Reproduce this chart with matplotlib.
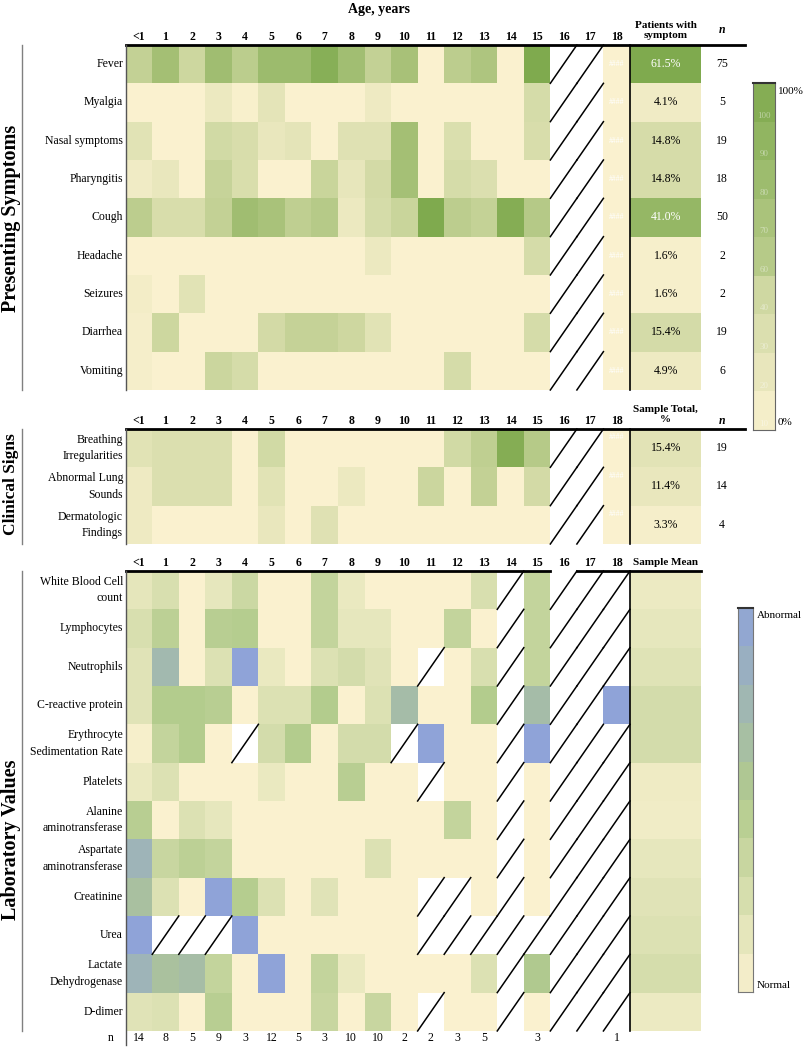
import numpy as np
import matplotlib
matplotlib.use("Agg")
from matplotlib import pyplot as plt
from matplotlib.colors import LinearSegmentedColormap, Normalize

nan = np.nan

## Data
ages = ["<1", "1", "2", "3", "4", "5", "6", "7", "8", "9", "10",
        "11", "12", "13", "14", "15", "16", "17", "18"]

symptoms = ["Fever", "Myalgia", "Nasal symptoms", "Pharyngitis", "Cough",
            "Headache", "Seizures", "Diarrhea", "Vomiting"]
symptom_pct = [
  [45, 70, 37, 73, 51, 76, 76, 93, 72, 45, 67, 0, 50, 62, 0, 100, nan, nan, 0],
  [0, 0, 0, 12, 2, 18, 0, 0, 0, 10, 0, 0, 0, 0, 0, 30, nan, nan, 0],
  [20, 0, 0, 33, 28, 14, 18, 0, 22, 22, 70, 0, 26, 0, 0, 28, nan, nan, 0],
  [8, 14, 0, 42, 27, 0, 0, 40, 16, 32, 69, 0, 30, 25, 0, 0, nan, nan, 0],
  [50, 28, 28, 45, 73, 66, 48, 55, 12, 30, 40, 100, 50, 44, 95, 56, nan, nan, 0],
  [0, 0, 0, 0, 0, 0, 0, 0, 0, 12, 0, 0, 0, 0, 0, 30, nan, nan, 0],
  [6, 0, 20, 0, 0, 0, 0, 0, 0, 0, 0, 0, 0, 0, 0, 0, nan, nan, 0],
  [4, 37, 0, 0, 0, 32, 43, 43, 36, 20, 0, 0, 0, 0, 0, 30, nan, nan, 0],
  [4, 0, 0, 38, 30, 0, 0, 0, 0, 0, 0, 0, 30, 0, 0, 0, nan, nan, 0],
]
symptom_total = [61.5, 4.1, 14.8, 14.8, 41.0, 1.6, 1.6, 15.4, 4.9]
symptom_n = [75, 5, 19, 18, 50, 2, 2, 19, 6]

signs = ["Breathing\nIrregularities", "Abnormal Lung\nSounds",
         "Dermatologic\nFindings"]
sign_pct = [
  [20, 25, 25, 25, 0, 33, 0, 0, 0, 0, 0, 0, 33, 48, 95, 55, nan, nan, 0],
  [10, 25, 25, 25, 0, 20, 0, 0, 12, 0, 0, 38, 0, 45, 0, 32, nan, nan, 0],
  [10, 0, 0, 0, 0, 14, 0, 22, 0, 0, 0, 0, 0, 0, 0, 0, nan, nan, 0],
]
sign_total = [15.4, 11.4, 3.3]
sign_n = [19, 14, 4]

labs = ["White Blood Cell\ncount", "Lymphocytes", "Neutrophils",
        "C-reactive protein", "Erythrocyte\nSedimentation Rate", "Platelets",
        "Alanine\naminotransferase", "Aspartate\naminotransferase",
        "Creatinine", "Urea", "Lactate\nDehydrogenase", "D-dimer"]
# 0 = normal, 100 = abnormal
lab_score = [
  [15, 24, 0, 14, 33, 0, 0, 38, 11, 0, 0, 0, 0, 24, nan, 38, nan, nan, nan],
  [24, 43, 0, 46, 48, 0, 0, 38, 14, 14, 0, 0, 38, 0, nan, 38, nan, nan, nan],
  [18, 73, 0, 21, 100, 11, 0, 21, 27, 18, 0, nan, 0, 24, nan, 38, nan, nan, nan],
  [18, 49, 49, 46, 0, 21, 21, 49, 0, 21, 68, 0, 0, 49, nan, 68, nan, nan, 100],
  [3, 38, 49, 0, nan, 27, 49, 0, 27, 27, nan, 100, 0, 0, nan, 100, nan, nan, nan],
  [11, 21, 0, 0, 0, 11, 0, 0, 46, 0, 0, nan, 0, 0, nan, 0, nan, nan, nan],
  [46, 0, 21, 14, 0, 0, 0, 0, 0, 0, 0, 0, 38, 0, nan, 0, nan, nan, nan],
  [79, 35, 43, 38, 0, 0, 0, 0, 0, 21, 0, 0, 0, 0, nan, 0, nan, nan, nan],
  [63, 21, 0, 100, 48, 21, 0, 18, 0, 0, 0, nan, nan, 0, nan, 0, nan, nan, nan],
  [100, nan, nan, nan, 100, 0, 0, 0, 0, 0, 0, nan, nan, nan, nan, nan, nan, nan, nan],
  [79, 62, 67, 38, 0, 100, 0, 38, 11, 0, 0, 0, 0, 21, nan, 52, nan, nan, nan],
  [18, 21, 0, 46, 0, 0, 0, 35, 0, 35, 0, nan, 0, 0, nan, 0, nan, nan, nan],
]
lab_mean = [10, 14, 19, 27, 27, 8, 7, 14, 18, 21, 26, 10]
lab_n = [14, 8, 5, 9, 3, 12, 5, 3, 10, 10, 2, 2, 3, 5, None, 3, None, None, 1]

legend_pct = [100, 90, 80, 70, 60, 40, 30, 20, 10]
lab_legend = [100, 90, 80, 70, 60, 50, 40, 30, 20, 10]

## Layout (pixels)
W, H = 807, 1050
GX0 = 125.7       # left edge of the grid
CW = 26.54        # width of one age column
SUM_W = 71.5      # width of the summary column
ROW_H = 38.33
SW = SUM_W / CW

plt.rcParams['font.family'] = ['Liberation Serif', 'DejaVu Serif']

sym_cmap = LinearSegmentedColormap.from_list('sym', ['#FAF1CF', '#7FAA4E'])
lab_cmap = LinearSegmentedColormap.from_list(
  'lab', [(0, '#FAF1CF'), (0.5, '#B2CB8C'), (1, '#8FA3D8')])
pct_norm = Normalize(0, 100)

fig = plt.figure(figsize=(W / 100, H / 100), dpi=100)

def px(x):
  return (x - GX0) / CW

def section_axes(top, nrows):
  ax = fig.add_axes([GX0 / W, 1 - (top + nrows * ROW_H) / H,
                     (19 * CW + SUM_W) / W, nrows * ROW_H / H])
  ax.set_xlim(0, 19 + SW)
  ax.set_ylim(nrows, 0)
  ax.axis('off')
  return ax

def draw_grid(ax, vals, cmap, norm):
  data = np.ma.masked_invalid(np.array(vals, dtype=float))
  nr, nc = data.shape
  ax.pcolormesh(np.arange(nc + 1), np.arange(nr + 1), data, cmap=cmap,
                norm=norm, edgecolors='none', antialiased=False)
  for i, j in np.argwhere(np.ma.getmaskarray(data)):
    ax.plot([j, j + 1], [i + 1, i], color='black', lw=1.1, clip_on=False)

def draw_summary(ax, vals, cmap, norm):
  v = np.array(vals, dtype=float)[:, None]
  ax.pcolormesh([19, 19 + SW], np.arange(len(vals) + 1), v, cmap=cmap,
                norm=norm, edgecolors='none', antialiased=False)

def draw_rows(ax, names):
  for i, name in enumerate(names):
    ax.text(-0.1, i + 0.5, name, ha='right', va='center', fontsize=8.5,
            linespacing=1.5, clip_on=False)

def draw_header(ax, y, line_end, gap=None):
  for j, a in enumerate(ages):
    ax.text(j + 0.5, y, a, ha='center', va='center', fontsize=8.5,
            fontweight='bold', clip_on=False)
  if gap is None:
    ax.plot([0, line_end], [0, 0], color='black', lw=2, clip_on=False)
  else:
    ax.plot([0, gap], [0, 0], color='black', lw=2, clip_on=False)
    ax.plot([gap + 1, line_end], [0, 0], color='black', lw=2, clip_on=False)

def draw_frame(ax, nrows, extra=0):
  ax.plot([0, 0], [0, nrows + extra], color='#555555', lw=1, clip_on=False)
  ax.plot([19, 19], [0, nrows], color='black', lw=1.2, clip_on=False)

def section_label(ax, nrows, text, top, yc, size):
  ax.plot([px(21.7)] * 2, [0, nrows], color='#808080', lw=1, clip_on=False)
  ax.text(px(11), (yc - top) / ROW_H, text, rotation=90, ha='center',
          va='center', fontsize=size, fontweight='bold', clip_on=False)

def draw_totals(ax, totals, counts, top_two_line):
  for i, (t, n) in enumerate(zip(totals, counts)):
    col = 'white' if t > 40 else 'black'
    ax.text(19 + SW / 2, i + 0.5, "%.1f%%" % t, ha='center', va='center',
            fontsize=8.5, color=col)
    ax.text(px(722), i + 0.5, str(n), ha='center', va='center', fontsize=8.5,
            clip_on=False)
    yy = i + 0.22 if top_two_line else i + 0.5
    ax.text(18.5, yy, "####", ha='center', va='center', fontsize=5.5,
            color='white')

## Presenting symptoms
top1 = 45
ax1 = section_axes(top1, len(symptoms))
draw_grid(ax1, symptom_pct, sym_cmap, pct_norm)
draw_summary(ax1, symptom_total, sym_cmap, Normalize(0, 50, clip=True))
draw_rows(ax1, symptoms)
draw_header(ax1, -0.21, px(745))
draw_frame(ax1, len(symptoms))
draw_totals(ax1, symptom_total, symptom_n, False)
ax1.text(19 + SW / 2, -0.38, "Patients with\nsymptom", ha='center',
         va='center', fontsize=8, fontweight='bold', linespacing=1.25,
         clip_on=False)
ax1.text(px(722), -0.38, "n", ha='center', va='center', fontsize=8.5,
         fontweight='bold', style='italic', clip_on=False)
section_label(ax1, len(symptoms), "Presenting Symptoms", top1, 218, 14.5)

## Clinical signs
top2 = 429
ax2 = section_axes(top2, len(signs))
draw_grid(ax2, sign_pct, sym_cmap, pct_norm)
draw_summary(ax2, sign_total, sym_cmap, Normalize(0, 80, clip=True))
draw_rows(ax2, signs)
draw_header(ax2, -0.21, px(745))
draw_frame(ax2, len(signs))
draw_totals(ax2, sign_total, sign_n, True)
ax2.text(19 + SW / 2, -0.38, "Sample Total,\n%", ha='center', va='center',
         fontsize=8, fontweight='bold', linespacing=1.25, clip_on=False)
ax2.text(px(722), -0.21, "n", ha='center', va='center', fontsize=8.5,
         fontweight='bold', style='italic', clip_on=False)
section_label(ax2, len(signs), "Clinical Signs", top2, 484, 12.5)

## Laboratory values
top3 = 571
ax3 = section_axes(top3, len(labs))
draw_grid(ax3, lab_score, lab_cmap, pct_norm)
draw_summary(ax3, lab_mean, lab_cmap, pct_norm)
draw_rows(ax3, labs)
draw_header(ax3, -0.21, 19 + SW, gap=16)
draw_frame(ax3, len(labs), extra=0.37)
ax3.text(19 + SW / 2, -0.21, "Sample Mean", ha='center', va='center',
         fontsize=8, fontweight='bold', clip_on=False)
ny = len(labs) + 0.18
ax3.text(px(111), ny, "n", ha='center', va='center', fontsize=8.5,
         clip_on=False)
for j, n in enumerate(lab_n):
  if n is not None:
    ax3.text(j + 0.5, ny, str(n), ha='center', va='center', fontsize=8.5,
             clip_on=False)
section_label(ax3, len(labs), "Laboratory Values", top3, 840, 14.5)

fig.text(379 / W, 1 - 10 / H, "Age, years", ha='center', va='center',
         fontsize=10, fontweight='bold')

## Legend for symptoms / signs
cb1 = fig.add_axes([753 / W, 1 - 430 / H, 22 / W, 347 / H])
lv = np.array(legend_pct, dtype=float) - 5
cb1.pcolormesh([0, 1], np.arange(len(lv) + 1), lv[:, None], cmap=sym_cmap,
               norm=pct_norm, edgecolors='none', antialiased=False)
cb1.set_xlim(0, 1)
cb1.set_ylim(len(lv), 0)
for i, p in enumerate(legend_pct):
  cb1.text(0.5, i + 0.95, str(p), ha='center', va='bottom', fontsize=6.5,
           color='white', alpha=0.45)
cb1.set_xticks([])
cb1.set_yticks([])
for s in cb1.spines.values():
  s.set_color('#666666')
  s.set_linewidth(0.8)
cb1.spines['top'].set_color('#333333')
cb1.spines['top'].set_linewidth(1.5)
fig.text(778 / W, 1 - 91 / H, "100%", ha='left', va='center', fontsize=8)
fig.text(778 / W, 1 - 423 / H, "0%", ha='left', va='center', fontsize=8)

## Legend for laboratory values
cb2 = fig.add_axes([738 / W, 1 - 992 / H, 15 / W, 384 / H])
lv2 = np.array(lab_legend, dtype=float) - 5
cb2.pcolormesh([0, 1], np.arange(len(lv2) + 1), lv2[:, None], cmap=lab_cmap,
               norm=pct_norm, edgecolors='none', antialiased=False)
cb2.set_xlim(0, 1)
cb2.set_ylim(len(lv2), 0)
cb2.set_xticks([])
cb2.set_yticks([])
for s in cb2.spines.values():
  s.set_color('#777777')
  s.set_linewidth(0.8)
cb2.spines['top'].set_color('#333333')
cb2.spines['top'].set_linewidth(1.5)
fig.text(757 / W, 1 - 615 / H, "Abnormal", ha='left', va='center', fontsize=8)
fig.text(757 / W, 1 - 985 / H, "Normal", ha='left', va='center', fontsize=8)

fig.savefig("out.png", dpi=100, facecolor='white')
